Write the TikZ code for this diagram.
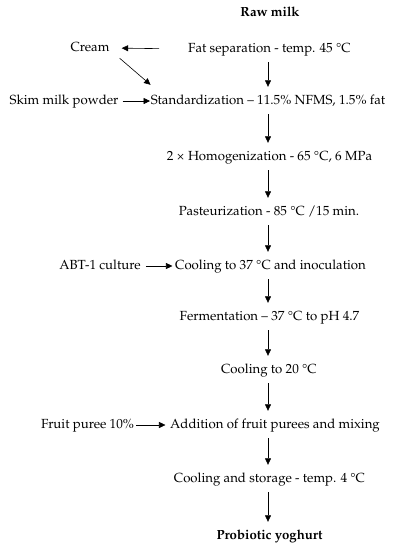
\documentclass[tikz,border=0pt]{standalone}
\usepackage[T1]{fontenc}
\usepackage{mathpazo}
\usepackage{textcomp}
\usetikzlibrary{arrows.meta}
\begin{document}
\begin{tikzpicture}[x=1pt,y=-1pt,
  txt/.style={inner sep=0pt,text height=9pt,text depth=3pt,font=\fontsize{13.2}{16}\selectfont},
  bold/.style={txt,font=\fontsize{13.2}{16}\selectfont\bfseries},
  arr/.style={draw=black,line width=0.6pt,-{Triangle[length=6.5pt,width=6pt]}},
  down/.style={arr,shorten <=7pt,shorten >=8pt}]
\useasboundingbox (0,0) rectangle (397,550);
\coordinate (ax) at (268,0);
\node[bold] (raw) at (270,13) {Raw milk};
\node[txt] (fat) at (269.5,49) {Fat separation - temp. 45 \textdegree C};
\node[txt] (std) at (268,101) {Standardization -- 11.5\% NFMS, 1.5\% fat};
\node[txt] (hom) at (269.5,157) {2 \texttimes{} Homogenization - 65 \textdegree C, 6 MPa};
\node[txt] (pas) at (269,212) {Pasteurization - 85 \textdegree C /15 min.};
\node[txt] (c37) at (270.5,266) {Cooling to 37 \textdegree C and inoculation};
\node[txt] (fer) at (269.5,317) {Fermentation -- 37 \textdegree C to pH 4.7};
\node[txt] (c20) at (269,370) {Cooling to 20 \textdegree C};
\node[txt] (add) at (275,425) {Addition of fruit purees and mixing};
\node[txt] (sto) at (269.5,479) {Cooling and storage - temp. 4 \textdegree C};
\node[bold] (pro) at (269.5,536) {Probiotic yoghurt};
\node[txt] (cream) at (90,48) {Cream};
\node[txt] (skim) at (64,101) {Skim milk powder};
\node[txt] (abt) at (100,266) {ABT-1 culture};
\node[txt] (fruit) at (87.5,425) {Fruit puree 10\%};
\foreach \a/\b in {fat/std,std/hom,hom/pas,pas/c37,c37/fer,fer/c20,c20/add,add/sto,sto/pro}
  \draw[down] (\a.south -| ax) -- (\b.north -| ax);
\draw[arr,shorten <=29pt,shorten >=12pt] (fat.west) -- (cream.east);
\draw[arr] ([shift={(10,4)}]cream.south east) -- ([shift={(0,-10)}]std.north west);
\draw[arr,shorten <=4pt,shorten >=0.5pt] (skim.east) -- (std.west);
\draw[arr,shorten <=5pt,shorten >=2.5pt] (abt.east) -- (c37.west);
\draw[arr,shorten <=2pt,shorten >=4.5pt] (fruit.east) -- (add.west);
\end{tikzpicture}
\end{document}
